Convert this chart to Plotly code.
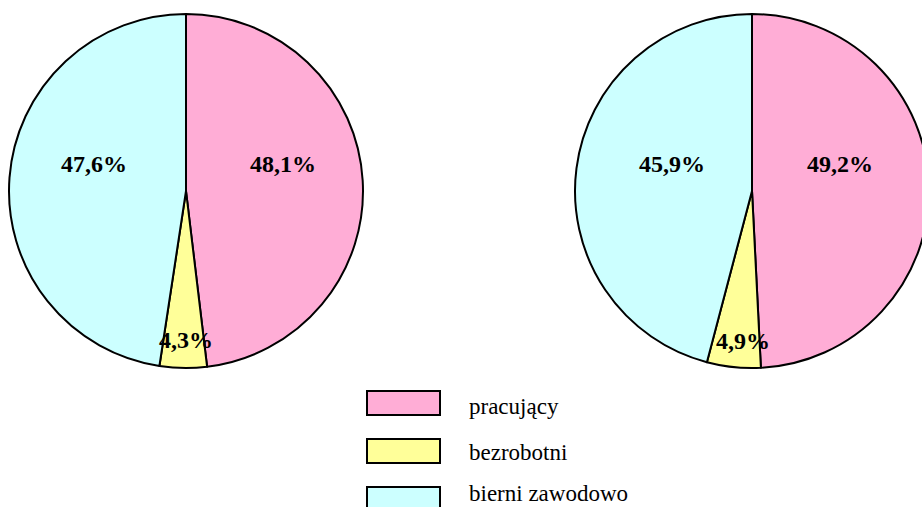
import plotly.graph_objects as go

categories = ["pracujący", "bezrobotni", "bierni zawodowo"]
left_values = [48.1, 4.3, 47.6]
right_values = [49.2, 4.9, 45.9]
colors = ["#FFADD6", "#FFFF99", "#CCFFFF"]

# figure slightly wider than the window so the right pie is clipped like the reference
W, H = 930, 507

def fx(px):
    return px / W

def fy(py):
    return 1 - py / H

def px_dom(x0, x1, y0, y1):
    return dict(x=[fx(x0), fx(x1)], y=[fy(y1), fy(y0)])

fig = go.Figure()
for vals, dom in [(left_values, px_dom(9, 363, 14, 368)),
                  (right_values, px_dom(575, 929, 14, 368))]:
    fig.add_trace(go.Pie(
        labels=categories, values=vals, sort=False, direction="clockwise",
        rotation=0, domain=dom, textinfo="none", hoverinfo="label+percent",
        marker=dict(colors=colors, line=dict(color="black", width=2)),
        showlegend=False,
    ))

def fmt(v):
    return f"{v:.1f}".replace(".", ",") + "%"

# label positions (pixels) for each pie: pracujący, bezrobotni, bierni
label_pos = {
    0: [(283, 164), (186, 340), (94, 164)],
    1: [(840, 164), (743, 341), (672, 164)],
}
annotations = []
for i, vals in enumerate([left_values, right_values]):
    for v, (x, y) in zip(vals, label_pos[i]):
        annotations.append(dict(
            x=fx(x), y=fy(y), xref="paper", yref="paper", showarrow=False,
            text=f"<b>{fmt(v)}</b>",
            font=dict(family="Liberation Serif", size=24, color="black"),
            xanchor="center", yanchor="middle"))

# custom legend
shapes = []
box_y = [403, 451, 499]
text_y = [406, 452, 493]
for cat, col, by, ty in zip(categories, colors, box_y, text_y):
    shapes.append(dict(type="rect", xref="paper", yref="paper",
                       x0=fx(367), x1=fx(440), y0=fy(by + 12), y1=fy(by - 12),
                       fillcolor=col, line=dict(color="black", width=2)))
    annotations.append(dict(
        x=fx(467), y=fy(ty), xref="paper", yref="paper", showarrow=False,
        text=cat, xanchor="left", yanchor="middle",
        font=dict(family="Liberation Serif", size=23, color="black")))

fig.update_layout(
    width=W, height=H, margin=dict(l=0, r=0, t=0, b=0),
    paper_bgcolor="white", plot_bgcolor="white",
    annotations=annotations, shapes=shapes, showlegend=False,
)
fig.write_html(
    "out.html",
    config={"displayModeBar": False},
    post_script=("document.body.style.margin='0';"
                 "document.body.style.overflow='hidden';"
                 "document.documentElement.style.overflow='hidden';"),
)
